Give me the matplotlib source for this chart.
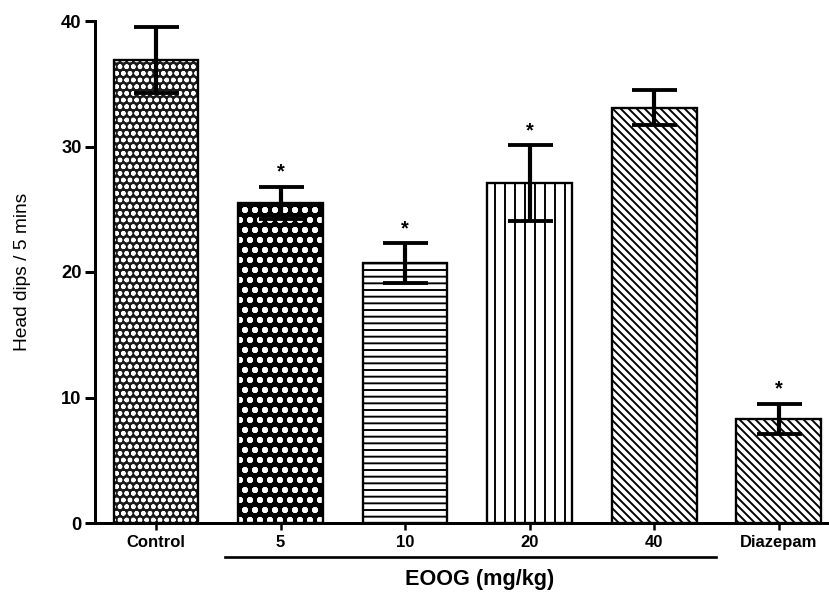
import matplotlib
matplotlib.use("Agg")
import matplotlib.pyplot as plt
from matplotlib.transforms import blended_transform_factory

categories = ["Control", "5", "10", "20", "40", "Diazepam"]
means = [36.9, 25.5, 20.7, 27.1, 33.1, 8.3]
errors = [2.6, 1.3, 1.6, 3.0, 1.4, 1.2]
significant = [False, True, True, True, False, True]
yticks = [0, 10, 20, 30, 40]

BS = chr(92)
face = ["#1c1c1c", "black", "white", "white", "white", "white"]
hatch_col = ["white", "white", "black", "black", "black", "black"]
hatches = ["ooo", "oo..", "---", "||", BS * 5, BS * 5]

plt.rcParams["font.family"] = ["Liberation Sans", "DejaVu Sans"]
plt.rcParams["hatch.linewidth"] = 1.15

DPI = 120
fig = plt.figure(figsize=(829 / DPI, 596 / DPI), dpi=DPI)
ax = fig.add_axes([95 / 829, 73 / 596, 746 / 829, 502 / 596])

x = list(range(len(categories)))
for i in x:
    ax.bar(i, means[i], width=0.68, color=face[i], edgecolor=hatch_col[i],
           hatch=hatches[i], linewidth=0, zorder=2)
    ax.bar(i, means[i], width=0.68, fill=False, edgecolor="black",
           linewidth=1.4, zorder=3)

ax.errorbar(x, means, yerr=errors, fmt="none", ecolor="black", elinewidth=2.5,
            capsize=13.5, capthick=2.3, zorder=4)

for i in x:
    if significant[i]:
        ax.text(i, means[i] + errors[i] + 0.4, "*", ha="center", va="bottom",
                fontsize=12, fontweight="bold", zorder=5)

ax.set_xlim(-0.49, 5.5)
ax.set_ylim(0, 40)
ax.set_yticks(yticks)
ax.set_xticks(x)
ax.set_xticklabels(categories, fontsize=10, fontweight="bold")
ax.set_yticklabels([str(t) for t in yticks], fontsize=11, fontweight="bold")
for s in ["top", "right"]:
    ax.spines[s].set_visible(False)
for s in ["left", "bottom"]:
    ax.spines[s].set_linewidth(1.8)
ax.tick_params(axis="y", length=6, width=1.8, pad=2)
ax.tick_params(axis="x", length=4, width=1.5, pad=3)

ax.set_ylabel("Head dips / 5 mins", fontsize=11.5, labelpad=18)

trans = blended_transform_factory(ax.transData, ax.transAxes)
ax.plot([0.55, 4.5], [-0.068, -0.068], color="black", lw=1.6,
        transform=trans, clip_on=False)
ax.text(2.6, -0.113, "EOOG (mg/kg)", transform=trans, ha="center", va="center",
        fontsize=13, fontweight="bold")

fig.savefig("out.png", dpi=DPI)
